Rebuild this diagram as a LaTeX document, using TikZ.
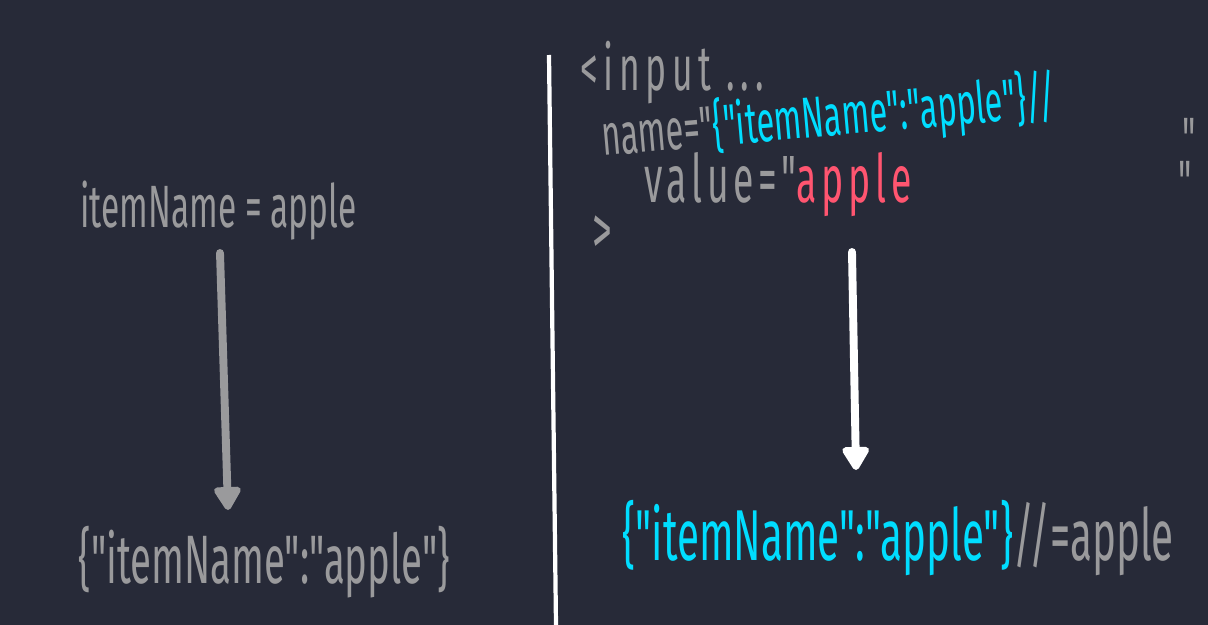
\documentclass[tikz,border=0pt]{standalone}
\usepackage{fontspec}
\setmainfont{Fira Sans}[FakeStretch=0.56, Ligatures=TeXOff]
\usepackage{tikz}
\usetikzlibrary{arrows.meta, positioning}
\definecolor{bgnavy}{HTML}{272A38}
\definecolor{chalkgray}{HTML}{9A9A9C}
\definecolor{jsoncyan}{HTML}{00DDFF}
\definecolor{valred}{HTML}{FF5570}
\newcommand{\chalksize}[1]{\fontsize{#1}{#1}\selectfont}

\begin{document}
\begin{tikzpicture}[x=0.02cm, y=-0.02cm]
    \tikzstyle{chalk} = [inner sep=0pt, anchor=base west, text=chalkgray,
                         font=\chalksize{34}]
    \tikzstyle{arr} = [-{Triangle[width=17pt, length=15pt, round]},
                       line width=4.5pt, line cap=round]

    \fill[bgnavy] (0,0) rectangle (1208,625);
    \useasboundingbox (0,0) rectangle (1208,625);

    % divider
    \coordinate (divtop) at (549,55);
    \coordinate (divbot) at (556,625);
    \draw[white, line width=2.4pt] (divtop) -- (divbot);

    % left: plain parameter
    \node (lefteq)   [chalk] at (80,228) {itemName = apple};
    \node (leftjson) [chalk, font=\chalksize{39}] at (78,583)
        {\{"itemName":"apple"\}};
    \coordinate (lstart) at (220,253);
    \coordinate (lend)   at (228,510);
    \draw[arr, chalkgray] (lstart) -- (lend);

    % right: input tag
    \node (inputtag)   [chalk, font=\chalksize{36}\addfontfeature{LetterSpace=9}]
        at (580,91) {<input ...};
    \node (nameattr)   [chalk, font=\chalksize{33}, rotate=5] at (603,156)
        {name="\textcolor{jsoncyan}{\{"itemName":"apple"\}//}};
    \node (nameclose)  [chalk] at (1182,160) {"};
    \node (valueattr)  [chalk, font=\chalksize{38}\addfontfeature{LetterSpace=7}]
        at (644,203) {value="\textcolor{valred}{apple}};
    \node (valueclose) [chalk] at (1178,203) {"};
    \node (tagclose)   [chalk, font=\chalksize{40}] at (592,255) {>};
    \coordinate (rstart) at (852,252);
    \coordinate (rend)   at (856,470);
    \draw[arr, white] (rstart) -- (rend);

    \node (rightjson) [chalk, font=\chalksize{41}] at (622,560)
        {\textcolor{jsoncyan}{\{"itemName":"apple"\}}//=apple};
\end{tikzpicture}
\end{document}
